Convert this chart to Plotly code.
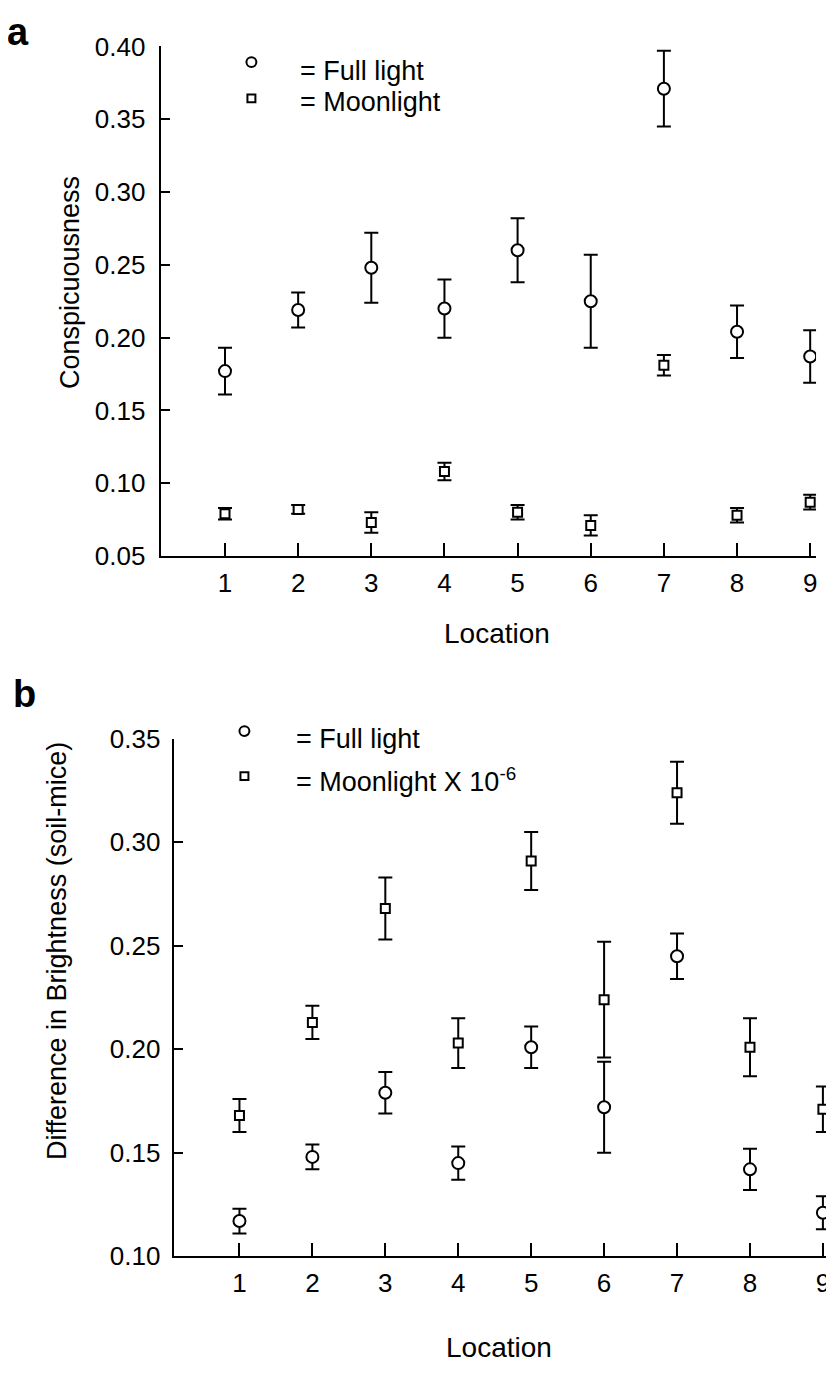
import plotly.graph_objects as go

# The page body has an 8px margin; size the figure so the page does not scroll.
OFF = 8
W, H = 834 - OFF, 1379 - 2 * OFF

locations = [1, 2, 3, 4, 5, 6, 7, 8, 9]

# Panel a: Conspicuousness
a_full = [0.177, 0.219, 0.248, 0.220, 0.260, 0.225, 0.371, 0.204, 0.187]
a_full_err = [0.016, 0.012, 0.024, 0.020, 0.022, 0.032, 0.026, 0.018, 0.018]
a_moon = [0.079, 0.082, 0.073, 0.108, 0.080, 0.071, 0.181, 0.078, 0.087]
a_moon_err = [0.004, 0.003, 0.007, 0.006, 0.005, 0.007, 0.007, 0.005, 0.005]

# Panel b: Difference in brightness (soil-mice)
b_full = [0.117, 0.148, 0.179, 0.145, 0.201, 0.172, 0.245, 0.142, 0.121]
b_full_err = [0.006, 0.006, 0.010, 0.008, 0.010, 0.022, 0.011, 0.010, 0.008]
b_moon = [0.168, 0.213, 0.268, 0.203, 0.291, 0.224, 0.324, 0.201, 0.171]
b_moon_err = [0.008, 0.008, 0.015, 0.012, 0.014, 0.028, 0.015, 0.014, 0.011]

a_yticks = [0.05, 0.10, 0.15, 0.20, 0.25, 0.30, 0.35, 0.40]
b_yticks = [0.10, 0.15, 0.20, 0.25, 0.30, 0.35]

FONT = "Liberation Sans, Arial, sans-serif"
BLACK = "#000000"


def px_x(p):
    return (p - OFF) / W


def px_y(p):
    return 1 - (p - OFF) / H


def err_trace(x, y, e, symbol, size, xa, ya):
    return go.Scatter(
        x=x, y=y, mode="markers", xaxis=xa, yaxis=ya, showlegend=False,
        marker=dict(symbol=symbol, size=size, color="white",
                    line=dict(color=BLACK, width=2)),
        error_y=dict(type="data", array=e, visible=True, color=BLACK,
                     thickness=2, width=7),
    )


fig = go.Figure()
fig.add_trace(err_trace(locations, a_full, a_full_err, "circle", 12, "x", "y"))
fig.add_trace(err_trace(locations, a_moon, a_moon_err, "square", 9, "x", "y"))
fig.add_trace(err_trace(locations, b_full, b_full_err, "circle", 12, "x2", "y2"))
fig.add_trace(err_trace(locations, b_moon, b_moon_err, "square", 9, "x2", "y2"))

axis_common = dict(
    showline=True, linecolor=BLACK, linewidth=2, mirror=False,
    ticks="inside", tickcolor=BLACK, tickwidth=2, showgrid=False, zeroline=False,
    tickfont=dict(family=FONT, size=26, color=BLACK),
)

fig.update_layout(
    width=W, height=H,
    margin=dict(l=0, r=0, t=0, b=0),
    paper_bgcolor="white", plot_bgcolor="white",
    font=dict(family=FONT, color=BLACK),
    xaxis=dict(axis_common, domain=[px_x(161), px_x(818)], range=[0.12, 9.08],
               tickvals=locations, ticklen=13, anchor="y", ticklabelstandoff=3),
    yaxis=dict(axis_common, domain=[px_y(553), px_y(32)], range=[0.05, 0.40],
               tickvals=a_yticks, ticktext=[f"{v:.2f}" for v in a_yticks],
               ticklen=9, anchor="x", ticklabelstandoff=8),
    xaxis2=dict(axis_common, domain=[px_x(174), px_x(830)], range=[0.097, 9.07],
                tickvals=locations, ticklen=13, anchor="y2", ticklabelstandoff=3),
    yaxis2=dict(axis_common, domain=[px_y(1269), px_y(740)], range=[0.10, 0.35],
                tickvals=b_yticks, ticktext=[f"{v:.2f}" for v in b_yticks],
                ticklen=9, anchor="x2", ticklabelstandoff=6),
)

ann = []


def add_text(text, x, y, size=27, xanchor="center", yanchor="middle", angle=0, bold=False):
    if bold:
        text = f"<b>{text}</b>"
    ann.append(dict(text=text, x=px_x(x), y=px_y(y), xref="paper", yref="paper",
                    showarrow=False, xanchor=xanchor, yanchor=yanchor, textangle=angle,
                    font=dict(family=FONT, size=size, color=BLACK)))


# panel labels
add_text("a", 18, 17, size=38, bold=True)
add_text("b", 25, 694, size=38, bold=True)
# axis titles
add_text("Location", 498, 632, size=28)
add_text("Conspicuousness", 70, 273, angle=-90)
add_text("Location", 500, 1362, size=28)
add_text("Difference in Brightness (soil-mice)", 57, 957, angle=-90)
# legend texts
add_text("= Full light", 299, 57, xanchor="left")
add_text("= Moonlight", 299, 89, xanchor="left")
add_text("= Full light", 295, 740, xanchor="left")
add_text("= Moonlight X 10<sup>-6</sup>", 295, 782, xanchor="left")

fig.update_layout(annotations=ann)

# legend symbols
shapes = []


def sym(kind, cx, cy, r):
    shapes.append(dict(type=kind, xref="paper", yref="paper",
                       x0=px_x(cx - r), x1=px_x(cx + r), y0=px_y(cy + r), y1=px_y(cy - r),
                       line=dict(color=BLACK, width=2), fillcolor="white"))


sym("circle", 252, 48, 5)
sym("rect", 252, 85, 4)
sym("circle", 245, 732, 5)
sym("rect", 245, 778, 4)
fig.update_layout(shapes=shapes)

fig.write_html("out.html")
